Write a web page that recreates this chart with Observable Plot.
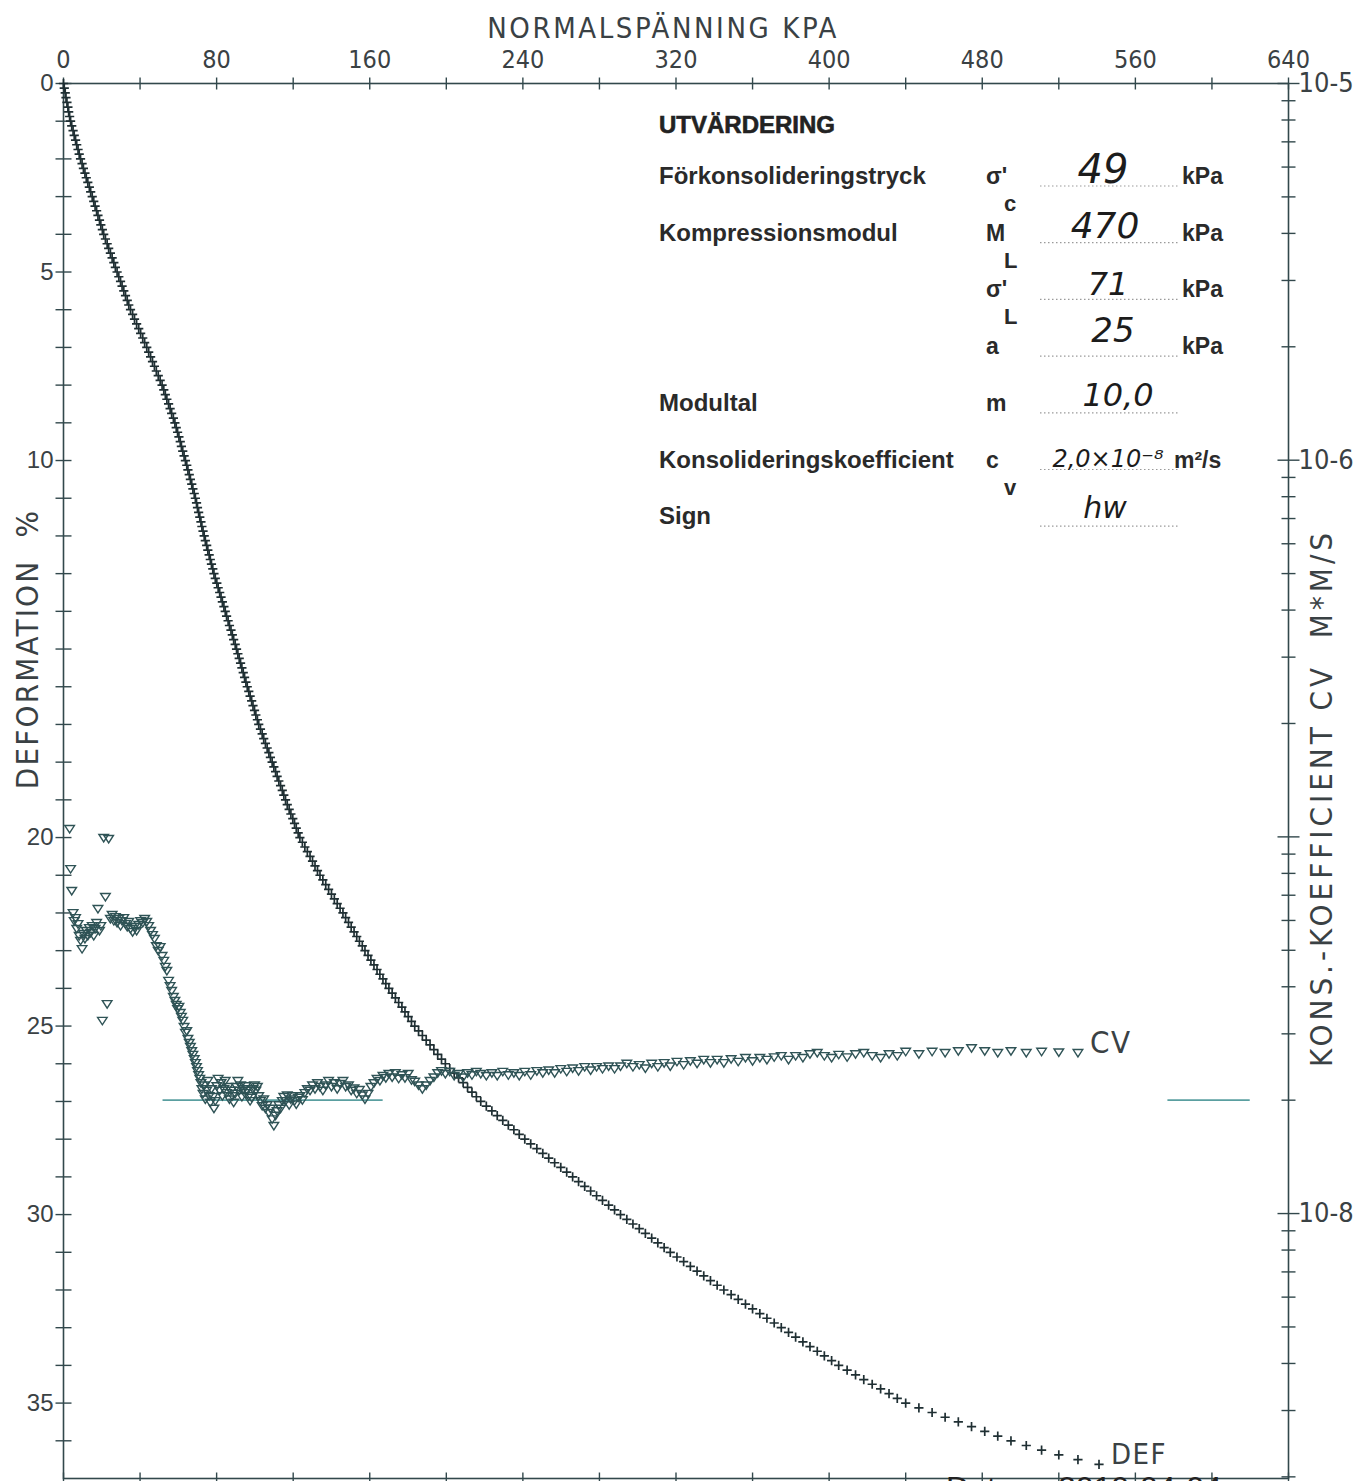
<!DOCTYPE html>
<html>
<head>
<meta charset="utf-8">
<script src="https://cdn.jsdelivr.net/npm/d3@7"></script>
<script src="https://cdn.jsdelivr.net/npm/@observablehq/plot@0.6"></script>
<style>
  html, body { margin: 0; padding: 0; background: #fff; }
  #chart { position: relative; width: 1354px; height: 1481px; overflow: hidden; background: #fff; }
  #chart svg { position: absolute; left: 0; top: 0; }
</style>
</head>
<body>
<div id="chart"></div>
<script>
// CRS oedometer test: one reading per 0.125 % of deformation.
// Deformation (%) of each reading
const deformation = [
  0, 0.125, 0.25, 0.375, 0.5, 0.625, 0.75, 0.875,
  1, 1.125, 1.25, 1.375, 1.5, 1.625, 1.75, 1.875,
  2, 2.125, 2.25, 2.375, 2.5, 2.625, 2.75, 2.875,
  3, 3.125, 3.25, 3.375, 3.5, 3.625, 3.75, 3.875,
  4, 4.125, 4.25, 4.375, 4.5, 4.625, 4.75, 4.875,
  5, 5.125, 5.25, 5.375, 5.5, 5.625, 5.75, 5.875,
  6, 6.125, 6.25, 6.375, 6.5, 6.625, 6.75, 6.875,
  7, 7.125, 7.25, 7.375, 7.5, 7.625, 7.75, 7.875,
  8, 8.125, 8.25, 8.375, 8.5, 8.625, 8.75, 8.875,
  9, 9.125, 9.25, 9.375, 9.5, 9.625, 9.75, 9.875,
  10, 10.125, 10.25, 10.375, 10.5, 10.625, 10.75, 10.875,
  11, 11.125, 11.25, 11.375, 11.5, 11.625, 11.75, 11.875,
  12, 12.125, 12.25, 12.375, 12.5, 12.625, 12.75, 12.875,
  13, 13.125, 13.25, 13.375, 13.5, 13.625, 13.75, 13.875,
  14, 14.125, 14.25, 14.375, 14.5, 14.625, 14.75, 14.875,
  15, 15.125, 15.25, 15.375, 15.5, 15.625, 15.75, 15.875,
  16, 16.125, 16.25, 16.375, 16.5, 16.625, 16.75, 16.875,
  17, 17.125, 17.25, 17.375, 17.5, 17.625, 17.75, 17.875,
  18, 18.125, 18.25, 18.375, 18.5, 18.625, 18.75, 18.875,
  19, 19.125, 19.25, 19.375, 19.5, 19.625, 19.75, 19.875,
  20, 20.125, 20.25, 20.375, 20.5, 20.625, 20.75, 20.875,
  21, 21.125, 21.25, 21.375, 21.5, 21.625, 21.75, 21.875,
  22, 22.125, 22.25, 22.375, 22.5, 22.625, 22.75, 22.875,
  23, 23.125, 23.25, 23.375, 23.5, 23.625, 23.75, 23.875,
  24, 24.125, 24.25, 24.375, 24.5, 24.625, 24.75, 24.875,
  25, 25.125, 25.25, 25.375, 25.5, 25.625, 25.75, 25.875,
  26, 26.125, 26.25, 26.375, 26.5, 26.625, 26.75, 26.875,
  27, 27.125, 27.25, 27.375, 27.5, 27.625, 27.75, 27.875,
  28, 28.125, 28.25, 28.375, 28.5, 28.625, 28.75, 28.875,
  29, 29.125, 29.25, 29.375, 29.5, 29.625, 29.75, 29.875,
  30, 30.125, 30.25, 30.375, 30.5, 30.625, 30.75, 30.875,
  31, 31.125, 31.25, 31.375, 31.5, 31.625, 31.75, 31.875,
  32, 32.125, 32.25, 32.375, 32.5, 32.625, 32.75, 32.875,
  33, 33.125, 33.25, 33.375, 33.5, 33.625, 33.75, 33.875,
  34, 34.125, 34.25, 34.375, 34.5, 34.625, 34.75, 34.875,
  35, 35.125, 35.25, 35.375, 35.5, 35.625, 35.75, 35.875,
  36, 36.125, 36.25, 36.375, 36.5, 36.625
];

// Normal stress (kPa) of each reading
const pressure = [
  0, 0.4, 0.9, 1.3, 1.8, 2.3, 2.7, 3.2,
  3.7, 4.3, 5.0, 5.6, 6.3, 6.9, 7.6, 8.2,
  8.9, 9.7, 10.4, 11.2, 11.9, 12.7, 13.5, 14.2,
  15.0, 15.8, 16.5, 17.3, 18.0, 18.8, 19.5, 20.3,
  21.0, 21.9, 22.8, 23.6, 24.5, 25.4, 26.3, 27.1,
  28.0, 28.9, 29.8, 30.6, 31.5, 32.4, 33.3, 34.1,
  35.0, 36.1, 37.1, 38.2, 39.3, 40.3, 41.4, 42.4,
  43.5, 44.5, 45.5, 46.5, 47.5, 48.5, 49.5, 50.5,
  51.5, 52.4, 53.2, 54.0, 54.9, 55.7, 56.5, 57.4,
  58.2, 58.9, 59.6, 60.3, 61.0, 61.6, 62.3, 63.0,
  63.7, 64.4, 65.0, 65.7, 66.3, 67.0, 67.6, 68.3,
  68.9, 69.5, 70.0, 70.6, 71.2, 71.8, 72.3, 72.9,
  73.5, 74.1, 74.8, 75.4, 76.1, 76.7, 77.3, 78.0,
  78.6, 79.3, 80.1, 80.8, 81.6, 82.3, 83.0, 83.8,
  84.5, 85.2, 86.0, 86.7, 87.5, 88.2, 88.9, 89.7,
  90.4, 91.1, 91.8, 92.5, 93.2, 93.9, 94.6, 95.3,
  96.0, 96.8, 97.5, 98.3, 99.0, 99.8, 100.5, 101.3,
  102.0, 102.9, 103.8, 104.6, 105.5, 106.4, 107.3, 108.1,
  109.0, 109.9, 110.8, 111.6, 112.5, 113.4, 114.3, 115.1,
  116.0, 116.9, 117.9, 118.8, 119.8, 120.7, 121.6, 122.6,
  123.5, 124.8, 126.1, 127.4, 128.8, 130.1, 131.4, 132.7,
  134.0, 135.5, 137.0, 138.5, 140.0, 141.5, 143.0, 144.5,
  146.0, 147.4, 148.9, 150.3, 151.8, 153.2, 154.6, 156.1,
  157.5, 159.1, 160.6, 162.2, 163.8, 165.3, 166.9, 168.4,
  170.0, 171.7, 173.4, 175.1, 176.8, 178.4, 180.1, 181.8,
  183.5, 185.5, 187.5, 189.5, 191.5, 193.5, 195.5, 197.5,
  199.5, 201.8, 204.1, 206.4, 208.8, 211.1, 213.4, 215.7,
  218.0, 220.9, 223.8, 226.6, 229.5, 232.4, 235.3, 238.1,
  241.0, 244.1, 247.3, 250.4, 253.5, 256.6, 259.8, 262.9,
  266.0, 269.1, 272.3, 275.4, 278.5, 281.6, 284.8, 287.9,
  291.0, 294.3, 297.5, 300.8, 304.0, 307.3, 310.5, 313.8,
  317.0, 320.5, 324.0, 327.5, 331.0, 334.5, 338.0, 341.5,
  345.0, 348.8, 352.5, 356.3, 360.0, 363.8, 367.5, 371.3,
  375.0, 378.8, 382.5, 386.3, 390.0, 393.8, 397.5, 401.3,
  405.0, 409.4, 413.8, 418.1, 422.5, 426.9, 431.3, 435.6,
  440.0, 446.9, 453.8, 460.6, 467.5, 474.4, 481.3, 488.1,
  495.0, 503.0, 511.0, 520.0, 530.0, 541.0
];

// Consolidation coefficient cv of each reading, in 10^-8 m²/s (null: not evaluated)
const cvE8 = [
  null, null, null, null, null, null, null, 10.5,
  8.22, 7.19, 6.28, 5.98, 6.09, 5.70, 5.87, 5.46,
  5.30, 5.04, 5.53, 5.36, 5.63, 5.46, 5.73, 5.56,
  5.80, 5.46, 5.70, 5.91, 6.44, 5.63, 5.80, 3.25,
  9.94, 6.93, 3.60, 9.88, 6.06, 6.21, 5.98, 6.13,
  5.91, 6.06, 5.80, 5.98, 6.09, 5.87, 5.77, 5.95,
  5.70, 5.59, 5.77, 5.63, 5.84, 5.98, 5.91, 6.06,
  5.95, 5.80, 5.63, 5.49, 5.36, 5.13, 4.98, 5.10,
  4.83, 4.69, 4.52, 4.41, 4.15, 4.02, 3.90, 3.76,
  3.67, 3.58, 3.49, 3.54, 3.41, 3.33, 3.25, 3.13,
  3.02, 3.05, 2.91, 2.84, 2.77, 2.70, 2.64, 2.57,
  2.51, 2.45, 2.39, 2.33, 2.28, 2.22, 2.14, 2.08,
  2.19, 2.01, 2.12, 2.25, 2.05, 1.97, 2.14, 2.04,
  1.90, 1.99, 2.18, 2.28, 2.12, 2.22, 2.05, 2.14,
  2.25, 2.09, 2.17, 2.01, 2.12, 2.05, 1.97, 2.08,
  2.17, 2.25, 2.12, 2.19, 2.04, 2.14, 2.09, 2.18,
  2.12, 2.05, 1.99, 2.03, 2.14, 2.19, 2.12, 2.17,
  2.05, 1.99, 1.93, 2.01, 1.90, 1.94, 1.85, 1.90,
  1.78, 1.71, 1.82, 1.87, 1.94, 1.90, 1.99, 2.04,
  1.99, 2.06, 1.94, 2.01, 2.05, 1.99, 1.95, 2.03,
  2.05, 2.00, 2.09, 2.14, 2.12, 2.19, 2.14, 2.22,
  2.17, 2.12, 2.19, 2.25, 2.17, 2.22, 2.14, 2.21,
  2.25, 2.17, 2.19, 2.12, 2.15, 2.08, 2.13, 2.06,
  2.01, 2.08, 2.17, 2.22, 2.28, 2.25, 2.32, 2.29,
  2.35, 2.30, 2.36, 2.28, 2.33, 2.29, 2.35, 2.26,
  2.24, 2.19, 2.14, 2.19, 2.25, 2.30, 2.36, 2.39,
  2.35, 2.38, 2.32, 2.35, 2.30, 2.36, 2.33, 2.38,
  2.35, 2.32, 2.36, 2.32, 2.38, 2.33, 2.36, 2.32,
  2.38, 2.33, 2.39, 2.36, 2.40, 2.36, 2.42, 2.38,
  2.43, 2.39, 2.45, 2.40, 2.45, 2.42, 2.46, 2.42,
  2.46, 2.50, 2.45, 2.48, 2.43, 2.50, 2.45, 2.51,
  2.46, 2.53, 2.48, 2.54, 2.50, 2.56, 2.51, 2.56,
  2.51, 2.57, 2.53, 2.59, 2.54, 2.59, 2.56, 2.60,
  2.62, 2.56, 2.62, 2.59, 2.65, 2.67, 2.62, 2.59,
  2.64, 2.60, 2.65, 2.67, 2.62, 2.59, 2.65, 2.62,
  2.69, 2.65, 2.69, 2.67, 2.70, 2.75, 2.70, 2.67,
  2.70, 2.67, 2.69, 2.68, 2.67, null
];

// Evaluated cv level and the stress spans where its guide line is drawn
const cvEvaluated = 2.0e-8;
const cvGuideSpans = [[52, 167], [577, 620]]; // kPa

// Axis ticks
const stressLabels = [0, 80, 160, 240, 320, 400, 480, 560, 640];
const stressTicks = [0, 40, 80, 120, 160, 200, 240, 280, 320, 360, 400, 440, 480, 520, 560, 600, 640];
const deformationLabels = [0, 5, 10, 20, 25, 30, 35];
const deformationTicks = d3.range(0, 37, 1);
const cvLabels = [1e-5, 1e-6, 1e-8];
const cvDecades = [1e-5, 1e-6, 1e-7, 1e-8];
const cvDomain = [1.98e-9, 1e-5];
const cvMinorTicks = [1e-9, 1e-8, 1e-7, 1e-6]
  .flatMap(d => d3.range(2, 10).map(k => k * d))
  .filter(v => v >= cvDomain[0] && v <= cvDomain[1]);

// Axis titles
const stressTitle = "NORMALSPÄNNING KPA";
const deformationTitle = "DEFORMATION  %";
const cvTitle = "KONS.-KOEFFICIENT CV  M*M/S";

// Evaluation table (text block in the upper right of the plot)
const evalTitle = "UTVÄRDERING";
const evalLabels = ["Förkonsolideringstryck", "Kompressionsmodul", "", "", "Modultal", "Konsolideringskoefficient", "Sign"];
const evalSymbols = ["σ'", "M", "σ'", "a", "m", "c", ""];
const evalSubscripts = ["c", "L", "L", "", "", "v", ""];
const evalValues = ["49", "470", "71", "25", "10,0", "2,0×10⁻⁸", "hw"];
const evalUnits = ["kPa", "kPa", "kPa", "kPa", "", "m²/s", ""];
const dateText = "Datum: 2019-04-04";

const readings = pressure.map((p, i) => ({
  pressure: p,
  deformation: deformation[i],
  cv: cvE8[i] == null ? null : cvE8[i] * 1e-8
}));
const cvReadings = readings.filter(d => d.cv != null);

// ---- styling ----
const ink = "#1f2f33";
const cvInk = "#2f5356";
const frameInk = "#32484c";
const textInk = "#3a4144";
const guideInk = "#5a9fa0";
const plotterFont = '"Liberation Sans Narrow", "DejaVu Sans Condensed", "Arial Narrow", sans-serif';
const sansFont = '"Liberation Sans", Arial, Helvetica, sans-serif';

// custom symbols (size is the area, r = sqrt(size / π))
const rad = size => Math.sqrt(size / Math.PI);
const plusSym = { draw(ctx, size) { const r = rad(size); ctx.moveTo(-r, 0); ctx.lineTo(r, 0); ctx.moveTo(0, -r); ctx.lineTo(0, r); } };
const hSym = { draw(ctx, size) { const r = rad(size); ctx.moveTo(-r, 0); ctx.lineTo(r, 0); } };
const vSym = { draw(ctx, size) { const r = rad(size); ctx.moveTo(0, -r); ctx.lineTo(0, r); } };
const triDownSym = { draw(ctx, size) { const r = rad(size); ctx.moveTo(-r, -r * 0.7); ctx.lineTo(r, -r * 0.7); ctx.lineTo(0, r * 0.85); ctx.closePath(); } };

const W = 1354, H = 1481;
const common = {
  width: W, height: H,
  marginTop: 83, marginRight: 66, marginBottom: 3, marginLeft: 63,
  style: { background: "transparent", overflow: "visible" }
};

// Deformation vs normal stress (linear, 0 % at the top)
const defPlot = Plot.plot({
  ...common,
  x: { domain: [0, 640], axis: null },
  y: { domain: [0, 37], reverse: true, axis: null },
  marks: [
    Plot.frame({ stroke: frameInk, strokeWidth: 1.6 }),
    Plot.dot(stressTicks, { x: d => d, frameAnchor: "top", symbol: vSym, r: 6, stroke: frameInk, strokeWidth: 1.4, fill: "none" }),
    Plot.dot(stressTicks, { x: d => d, frameAnchor: "bottom", symbol: vSym, r: 6, stroke: frameInk, strokeWidth: 1.4, fill: "none" }),
    Plot.dot(deformationTicks, { y: d => d, frameAnchor: "left", symbol: hSym, r: 8, stroke: frameInk, strokeWidth: 1.4, fill: "none" }),
    Plot.text(stressLabels, { x: d => d, frameAnchor: "top", lineAnchor: "middle", dy: -24, text: d => String(d), fontSize: 25, fontFamily: plotterFont, fill: textInk }),
    Plot.text(deformationLabels, { y: d => d, frameAnchor: "left", dx: -10, textAnchor: "end", text: d => String(d), fontSize: 24, fontFamily: sansFont, fill: textInk }),
    Plot.text([stressTitle], { frameAnchor: "top", lineAnchor: "middle", dx: -13, dy: -55, fontSize: 29, fontFamily: plotterFont, fill: textInk }),
    Plot.text([deformationTitle], { frameAnchor: "left", textAnchor: "middle", lineAnchor: "middle", rotate: -90, dx: -35, dy: -132, fontSize: 31, fontFamily: plotterFont, fill: textInk }),
    Plot.dot(readings, { x: "pressure", y: "deformation", symbol: plusSym, r: 4.6, stroke: ink, strokeWidth: 1.7, fill: "none" }),
    Plot.text(readings.slice(-1), { x: "pressure", y: "deformation", text: () => "DEF", dx: 12, dy: -10, textAnchor: "start", fontSize: 29, fontFamily: plotterFont, fill: textInk })
  ]
});

// Consolidation coefficient vs normal stress (log scale, right axis)
const cvPlot = Plot.plot({
  ...common,
  x: { domain: [0, 640], axis: null },
  y: { type: "log", domain: cvDomain, axis: null },
  marks: [
    Plot.dot(cvMinorTicks, { y: d => d, frameAnchor: "right", symbol: hSym, r: 7, stroke: frameInk, strokeWidth: 1.4, fill: "none" }),
    Plot.dot(cvDecades, { y: d => d, frameAnchor: "right", symbol: hSym, r: 11, stroke: frameInk, strokeWidth: 1.4, fill: "none" }),
    Plot.text(cvLabels, { y: d => d, frameAnchor: "right", dx: 10, textAnchor: "start", text: d => "10-" + Math.round(-Math.log10(d)), fontSize: 27, fontFamily: plotterFont, fill: textInk }),
    Plot.text([cvTitle], { frameAnchor: "right", textAnchor: "middle", lineAnchor: "middle", rotate: -90, dx: 34, dy: 17, fontSize: 31, fontFamily: plotterFont, fill: textInk }),
    Plot.ruleY(cvGuideSpans, { y: () => cvEvaluated, x1: d => d[0], x2: d => d[1], stroke: guideInk, strokeWidth: 1.6 }),
    Plot.dot(cvReadings, { x: "pressure", y: "cv", symbol: triDownSym, r: 4.8, stroke: cvInk, strokeWidth: 1.4, fill: "none" }),
    Plot.text(cvReadings.slice(-1), { x: "pressure", y: "cv", text: () => "CV", dx: 12, dy: -10, textAnchor: "start", fontSize: 31, fontFamily: plotterFont, fill: textInk })
  ]
});

// Widen the plotter-style titles (letter spacing of the pen plotter lettering)
function spaceText(svg, content, px) {
  d3.select(svg).selectAll("text")
    .filter(function () { return this.textContent === content; })
    .style("letter-spacing", px + "px");
}
spaceText(defPlot, stressTitle, 2.6);
spaceText(defPlot, deformationTitle, 2.2);
spaceText(cvPlot, cvTitle, 4);
spaceText(defPlot, "DEF", 1.5);
spaceText(cvPlot, "CV", 1.5);

const chart = document.getElementById("chart");
chart.appendChild(defPlot);
chart.appendChild(cvPlot);

// Evaluation table and date stamp
const ann = d3.select(chart).append("svg").attr("width", W).attr("height", H);
const labelX = 659, symX = 986, subX = 1004, lineX1 = 1040, lineX2 = 1178, unitX = 1182;
const rowY = i => 184 + i * 56.7;
const valueStyle = [
  { x: 1103, dy: -1, size: 40 },
  { x: 1105, dy: -3, size: 36 },
  { x: 1108, dy: -2, size: 32 },
  { x: 1113, dy: -12, size: 34 },
  { x: 1118, dy: -5, size: 32 },
  { x: 1108, dy: -1, size: 24 },
  { x: 1105, dy: -6, size: 30 }
];

ann.append("text").attr("x", labelX).attr("y", 133).text(evalTitle)
  .attr("font-family", sansFont).attr("font-size", 24).attr("font-weight", "bold")
  .attr("fill", "#222").attr("stroke", "#222").attr("stroke-width", 0.6);

evalLabels.forEach((lab, i) => {
  const y = rowY(i);
  ann.append("line").attr("x1", lineX1).attr("x2", lineX2).attr("y1", y + 2).attr("y2", y + 2)
    .attr("stroke", "#9a9a9a").attr("stroke-width", 1.2).attr("stroke-dasharray", "1.5,2.5");
  if (lab) ann.append("text").attr("x", labelX).attr("y", y).text(lab)
    .attr("font-family", sansFont).attr("font-size", 24).attr("font-weight", "bold").attr("fill", "#2a2a2a");
  if (evalSymbols[i]) ann.append("text").attr("x", symX).attr("y", y).text(evalSymbols[i])
    .attr("font-family", sansFont).attr("font-size", 23).attr("font-weight", "bold").attr("fill", "#2a2a2a");
  if (evalSubscripts[i]) ann.append("text").attr("x", subX).attr("y", y + 27).text(evalSubscripts[i])
    .attr("font-family", sansFont).attr("font-size", 22).attr("font-weight", "bold").attr("fill", "#2a2a2a");
  if (evalUnits[i]) ann.append("text").attr("x", evalUnits[i] === "kPa" ? unitX : 1174).attr("y", y).text(evalUnits[i])
    .attr("font-family", sansFont).attr("font-size", 23).attr("font-weight", "bold").attr("fill", "#2a2a2a");
  const vs = valueStyle[i];
  ann.append("text").attr("x", vs.x).attr("y", y + vs.dy).text(evalValues[i])
    .attr("text-anchor", "middle")
    .attr("font-family", '"DejaVu Sans", sans-serif').attr("font-weight", 200)
    .attr("font-style", "italic").attr("font-size", vs.size).attr("fill", "#1c1c1c");
});

ann.append("text").attr("x", 946).attr("y", 1499).text(dateText)
  .attr("font-family", sansFont).attr("font-size", 32).attr("fill", "#222");
</script>
</body>
</html>
